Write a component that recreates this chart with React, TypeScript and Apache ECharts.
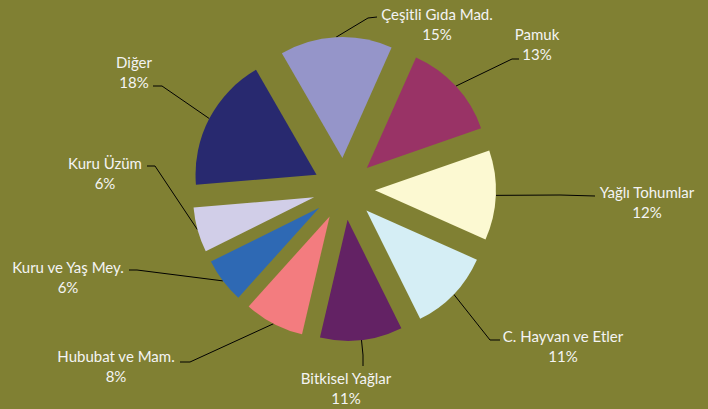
import React, { useEffect, useRef } from "react";
import * as echarts from "echarts";

const categories = [
  "Çeşitli Gıda Mad.",
  "Pamuk",
  "Yağlı Tohumlar",
  "C. Hayvan ve Etler",
  "Bitkisel Yağlar",
  "Hububat ve Mam.",
  "Kuru ve Yaş Mey.",
  "Kuru Üzüm",
  "Diğer",
];
const shares = [15, 13, 12, 11, 11, 8, 6, 6, 18];
const sliceColors = [
  "#9595C9",
  "#993366",
  "#FCF9D2",
  "#D5EEF5",
  "#632264",
  "#F37C7F",
  "#2E69B4",
  "#D1CEE8",
  "#28296F",
];

// layout constants
const CX = 344;
const CY = 189;
const R = 121;
const OFFSET = 31;
const START = 120;
// label block centres, leader-line elbows and ends
const labelCenters = [
  [437, 24], [537, 44], [647, 202], [563, 346], [346, 388],
  [116, 366], [68, 277], [105, 173], [134, 72],
];
const lineElbows = [
  [368, 18], [512, 59], [560, 195], [490, 340], [363, 355],
  [190, 362], [137, 270], [155, 166], [162, 86],
];
const lineEnds = [
  [377, 17], [519, 59], [595, 196], [500, 340], [363, 366],
  [180, 362], [129, 270], [147, 166], [153, 86],
];

const total = shares.reduce((a, b) => a + b, 0);
function edgePoint(i: number): number[] {
  let before = 0;
  for (let k = 0; k < i; k++) before += shares[k];
  const mid = START - ((before + shares[i] / 2) / total) * 360;
  const rad = (mid * Math.PI) / 180;
  return [CX + (R + OFFSET) * Math.cos(rad), CY - (R + OFFSET) * Math.sin(rad)];
}

export default function App() {
  const ref = useRef<HTMLDivElement>(null);
  useEffect(() => {
    document.body.style.margin = "0";
    const chart = echarts.init(ref.current!, undefined, { renderer: "svg" });
    chart.setOption({
      animation: false,
      backgroundColor: "#808033",
      series: [
        {
          type: "pie",
          center: [CX, CY],
          radius: R,
          startAngle: START,
          clockwise: true,
          selectedMode: "multiple",
          selectedOffset: OFFSET,
          silent: true,
          emphasis: { disabled: true },
          label: { show: false },
          labelLine: { show: false },
          data: categories.map((name, i) => ({
            name,
            value: shares[i],
            selected: true,
            itemStyle: { color: sliceColors[i] },
          })),
        },
        {
          type: "pie",
          center: [CX, CY],
          radius: R,
          startAngle: START,
          clockwise: true,
          avoidLabelOverlap: false,
          percentPrecision: 0,
          silent: true,
          emphasis: { disabled: true },
          itemStyle: { color: "rgba(0,0,0,0)" },
          data: categories.map((name, i) => ({ name, value: shares[i] })),
          label: {
            show: true,
            position: "outside",
            formatter: "{b}\n{d}%",
            color: "#F4F4F4",
            fontFamily: "Lato",
            fontSize: 15,
            lineHeight: 20,
          },
          labelLine: { show: true, lineStyle: { color: "#000000", width: 1 } },
          labelLayout: (p: any) => {
            const i = p.dataIndex;
            return {
              x: labelCenters[i][0],
              y: labelCenters[i][1],
              align: "center",
              verticalAlign: "middle",
              labelLinePoints: [edgePoint(i), lineElbows[i], lineEnds[i]],
            };
          },
        },
      ],
    });
    return () => chart.dispose();
  }, []);
  return <div ref={ref} style={{ width: 708, height: 409 }} />;
}
